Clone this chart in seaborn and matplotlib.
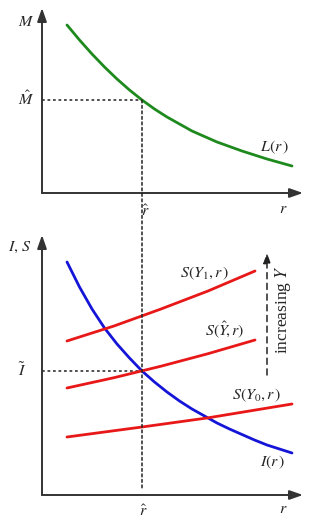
import matplotlib
matplotlib.use("Agg")
import matplotlib.pyplot as plt
from matplotlib.patches import ConnectionPatch
import seaborn as sns
import pandas as pd

# ---- data (r in units where r_hat = 1) ----
r_L = [0.25, 0.375, 0.5, 0.625, 0.75, 0.875, 1.0, 1.125, 1.25, 1.375,
       1.5, 1.625, 1.75, 1.875, 2.0, 2.125, 2.25, 2.375, 2.5]
L_vals = [1.68, 1.53, 1.39, 1.26, 1.14, 1.03, 0.93, 0.84, 0.76, 0.69,
          0.62, 0.565, 0.51, 0.465, 0.42, 0.38, 0.34, 0.305, 0.27]

r_I = [0.25, 0.375, 0.5, 0.625, 0.75, 0.875, 1.0, 1.125, 1.25, 1.375,
       1.5, 1.625, 1.75, 1.875, 2.0, 2.125, 2.25, 2.375, 2.5]
I_vals = [2.33, 2.08, 1.86, 1.67, 1.51, 1.37, 1.24, 1.13, 1.03, 0.94,
          0.86, 0.79, 0.72, 0.66, 0.605, 0.55, 0.50, 0.46, 0.42]

r_S1 = [0.25, 0.72, 1.19, 1.66, 2.13]
S1_vals = [1.54, 1.69, 1.86, 2.04, 2.24]

r_Sh = [0.25, 0.72, 1.19, 1.66, 2.13]
Sh_vals = [1.07, 1.173, 1.288, 1.413, 1.55]

r_S0 = [0.25, 1.0, 1.65, 2.5]
S0_vals = [0.58, 0.68, 0.77, 0.91]

r_hat = 1.0
M_hat = 0.93
I_tilde = 1.24

sns.set_style("white")
plt.rcParams["mathtext.fontset"] = "stix"
plt.rcParams["font.family"] = ["Liberation Serif", "DejaVu Serif"]

W, H = 335, 531
fig = plt.figure(figsize=(W / 100, H / 100), dpi=100)

# axes placement in pixels: origin x=42, x arrow tip 303
ax_top = fig.add_axes([42 / W, (H - 193) / H, 261 / W, 185 / H])
ax_bot = fig.add_axes([42 / W, (H - 495) / H, 261 / W, 260 / H])

green = "#1e8a1e"
red = "#e81818"
blue = "#1515d8"

sns.lineplot(data=pd.DataFrame({"r": r_L, "v": L_vals}), x="r", y="v",
             ax=ax_top, color=green, lw=2, sort=False)
sns.lineplot(data=pd.DataFrame({"r": r_I, "v": I_vals}), x="r", y="v",
             ax=ax_bot, color=blue, lw=2, sort=False)
for rr, vv in ((r_S1, S1_vals), (r_Sh, Sh_vals), (r_S0, S0_vals)):
    sns.lineplot(data=pd.DataFrame({"r": rr, "v": vv}), x="r", y="v",
                 ax=ax_bot, color=red, lw=2, sort=False)

axis_col = "#333333"
for ax, ytop in ((ax_top, 1.85), (ax_bot, 2.60)):
    ax.set_xlabel(""); ax.set_ylabel("")
    ax.set_xlim(0, 2.61); ax.set_ylim(0, ytop)
    ax.axis("off")
    ax.annotate("", xy=(2.61, 0), xytext=(0, 0),
                arrowprops=dict(arrowstyle="-|>,head_length=0.8,head_width=0.28",
                                color=axis_col, lw=1.4, shrinkA=0, shrinkB=0),
                annotation_clip=False)
    ax.annotate("", xy=(0, ytop), xytext=(0, 0),
                arrowprops=dict(arrowstyle="-|>,head_length=0.8,head_width=0.28",
                                color=axis_col, lw=1.4, shrinkA=0, shrinkB=0),
                annotation_clip=False)

dot = dict(color="#222222", lw=1.1, linestyle=(0, (1.8, 1.8)))
ax_top.plot([0, r_hat], [M_hat, M_hat], zorder=1, **dot)
ax_bot.plot([0, r_hat], [I_tilde, I_tilde], zorder=1, **dot)
con = ConnectionPatch(xyA=(r_hat, M_hat), coordsA=ax_top.transData,
                      xyB=(r_hat, 0.05), coordsB=ax_bot.transData, zorder=1, **dot)
fig.add_artist(con)

# dashed "increasing Y" arrow
ax_bot.annotate("", xy=(2.25, 2.42), xytext=(2.25, 1.20),
                arrowprops=dict(arrowstyle="-|>,head_length=0.6,head_width=0.22",
                                color="#222222", lw=1.1, linestyle=(0, (4, 3)),
                                shrinkA=0, shrinkB=0))
ax_bot.text(2.41, 1.85, r"increasing $Y$", rotation=90, ha="center", va="center",
            fontsize=12.5)

fs = 11.5
txt = dict(fontsize=fs, ha="center", va="center", zorder=5)
ax_top.text(-0.16, 1.71, r"$M$", **txt)
ax_top.text(-0.16, M_hat, r"$\hat{M}$", **txt)
ax_top.text(1.03, -0.19, r"$\hat{r}$", **txt)
ax_top.text(2.41, -0.16, r"$r$", **txt)
ax_top.text(2.33, 0.46, r"$L(r\,)$", **txt)

ax_bot.text(-0.22, 2.48, r"$I,\,S$", **txt)
ax_bot.text(-0.20, I_tilde, r"$\tilde{I}$", **txt)
ax_bot.text(1.01, -0.17, r"$\hat{r}$", **txt)
ax_bot.text(2.41, -0.14, r"$r$", **txt)
ax_bot.text(1.63, 2.22, r"$S(Y_1,r\,)$", **txt)
ax_bot.text(1.83, 1.65, r"$S(\hat{Y}\!,r)$", **txt)
ax_bot.text(2.15, 1.00, r"$S(Y_0,r\,)$", **txt)
ax_bot.text(2.31, 0.33, r"$I(r\,)$", **txt)

fig.savefig("out.png", dpi=100, facecolor="white")
